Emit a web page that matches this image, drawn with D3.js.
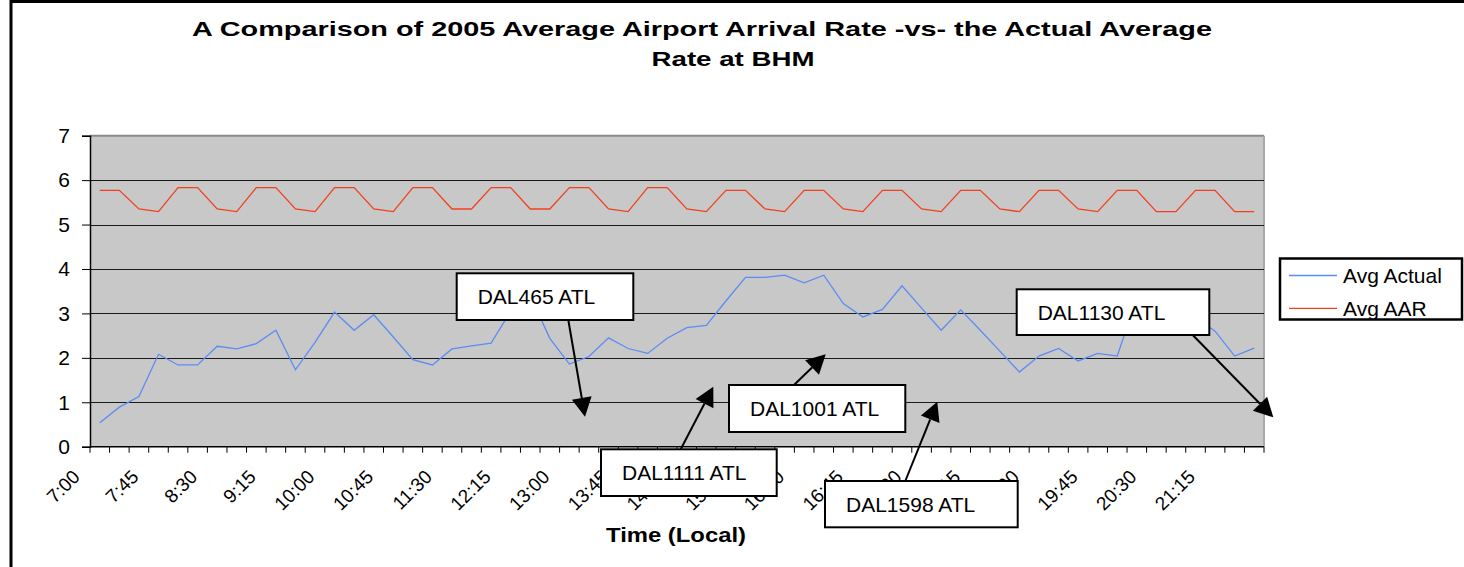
<!DOCTYPE html>
<html lang="en">
<head>
<meta charset="UTF-8">
<title>AAR vs Actual - BHM</title>
<script src="https://d3js.org/d3.v7.min.js"></script>
<style>
  body { margin: 0; background: #fff; }
  text { font-family: "Liberation Sans", Arial, sans-serif; }
</style>
</head>
<body>
<div id="chart"></div>
<script>
// categories: 15 minute slots, 7:00 .. 21:45
var times = ['7:00','7:15','7:30','7:45','8:00','8:15','8:30','8:45','9:00','9:15','9:30','9:45',
  '10:00','10:15','10:30','10:45','11:00','11:15','11:30','11:45','12:00','12:15','12:30','12:45',
  '13:00','13:15','13:30','13:45','14:00','14:15','14:30','14:45','15:00','15:15','15:30','15:45',
  '16:00','16:15','16:30','16:45','17:00','17:15','17:30','17:45','18:00','18:15','18:30','18:45',
  '19:00','19:15','19:30','19:45','20:00','20:15','20:30','20:45','21:00','21:15','21:30','21:45'];

var avgActual = [0.54,0.89,1.13,2.08,1.84,1.84,2.26,2.20,2.32,2.62,1.73,2.35,
  3.03,2.62,2.97,2.47,1.96,1.84,2.20,2.27,2.33,3.05,3.40,2.44,
  1.86,2.03,2.45,2.21,2.10,2.44,2.68,2.73,3.28,3.81,3.81,3.86,
  3.69,3.86,3.22,2.92,3.09,3.62,3.12,2.62,3.08,2.62,2.15,1.68,
  2.04,2.21,1.93,2.10,2.04,3.35,3.10,3.00,2.90,2.60,2.04,2.22];

var avgAAR = [5.77,5.77,5.35,5.29,5.83,5.83,5.35,5.29,5.83,5.83,5.35,5.29,
  5.83,5.83,5.35,5.29,5.83,5.83,5.35,5.35,5.83,5.83,5.35,5.35,
  5.83,5.83,5.35,5.29,5.83,5.83,5.35,5.29,5.77,5.77,5.35,5.29,
  5.77,5.77,5.35,5.29,5.77,5.77,5.35,5.29,5.77,5.77,5.35,5.29,
  5.77,5.77,5.35,5.29,5.77,5.77,5.29,5.29,5.77,5.77,5.29,5.29];

var yTicks = [0,1,2,3,4,5,6,7];
var seriesNames = ['Avg Actual','Avg AAR'];
var seriesColors = ['#5b8cf5','#f2401e'];

var flights = ['DAL465 ATL','DAL1111 ATL','DAL1001 ATL','DAL1598 ATL','DAL1130 ATL'];

var width = 1464, height = 567;
var plot = { left: 90, right: 1264, top: 135.7, bottom: 446.7 };

var svg = d3.select('#chart').append('svg')
  .attr('width', width).attr('height', height);

// outer chart border (only top and left visible)
svg.append('line').attr('x1', 11).attr('x2', width).attr('y1', 1.5).attr('y2', 1.5)
  .attr('stroke', '#000').attr('stroke-width', 3);
svg.append('line').attr('x1', 11).attr('x2', 11).attr('y1', 0).attr('y2', height)
  .attr('stroke', '#000').attr('stroke-width', 3);

// title
svg.append('text').attr('x', 702).attr('y', 36).attr('text-anchor', 'middle')
  .attr('font-size', 21).attr('font-weight', 'bold')
  .attr('textLength', 1020).attr('lengthAdjust', 'spacingAndGlyphs')
  .text('A Comparison of 2005 Average Airport Arrival Rate -vs- the Actual Average');
svg.append('text').attr('x', 733).attr('y', 66).attr('text-anchor', 'middle')
  .attr('font-size', 21).attr('font-weight', 'bold')
  .attr('textLength', 163).attr('lengthAdjust', 'spacingAndGlyphs')
  .text('Rate at BHM');

var x = d3.scaleBand().domain(times).range([plot.left, plot.right]).padding(0);
var y = d3.scaleLinear().domain([0, 7]).range([plot.bottom, plot.top]);
var cx = function(t) { return x(t) + x.bandwidth() / 2; };

// plot area
svg.append('rect').attr('x', plot.left).attr('y', plot.top)
  .attr('width', plot.right - plot.left).attr('height', plot.bottom - plot.top)
  .attr('fill', '#c8c8c8');
svg.append('line').attr('x1', plot.left).attr('x2', plot.right)
  .attr('y1', plot.top).attr('y2', plot.top).attr('stroke', '#8a8a8a').attr('stroke-width', 2);
svg.append('line').attr('x1', plot.right).attr('x2', plot.right)
  .attr('y1', plot.top).attr('y2', plot.bottom).attr('stroke', '#a8a8a8').attr('stroke-width', 2);

// gridlines
svg.append('g').selectAll('line').data(yTicks.filter(function(d) { return d > 0 && d < 7; }))
  .enter().append('line')
  .attr('x1', plot.left).attr('x2', plot.right)
  .attr('y1', function(d) { return Math.round(y(d)) + 0.5; })
  .attr('y2', function(d) { return Math.round(y(d)) + 0.5; })
  .attr('stroke', '#1a1a1a').attr('stroke-width', 1);

// y axis
var yAxis = d3.axisLeft(y).tickValues(yTicks).tickFormat(d3.format('d')).tickSize(8).tickPadding(12);
var gy = svg.append('g').attr('transform', 'translate(' + plot.left + ',0)').call(yAxis);
gy.select('.domain').attr('stroke', '#000').attr('stroke-width', 1.5);
gy.selectAll('.tick line').attr('stroke', '#000');
gy.selectAll('.tick text').attr('font-size', 21).attr('fill', '#000')
  .style('font-family', '"Liberation Sans", Arial, sans-serif');

// x axis: ticks at category boundaries, labels every 3rd slot
var boundaries = d3.range(times.length + 1);
var gx = svg.append('g');
gx.append('line').attr('x1', plot.left).attr('x2', plot.right)
  .attr('y1', plot.bottom).attr('y2', plot.bottom).attr('stroke', '#000').attr('stroke-width', 1.5);
gx.selectAll('line.tk').data(boundaries).enter().append('line').attr('class', 'tk')
  .attr('x1', function(i) { return plot.left + i * x.bandwidth(); })
  .attr('x2', function(i) { return plot.left + i * x.bandwidth(); })
  .attr('y1', plot.bottom).attr('y2', plot.bottom + 6)
  .attr('stroke', '#000').attr('stroke-width', 1);
gx.selectAll('text').data(times.filter(function(t, i) { return i % 3 === 0; }))
  .enter().append('text')
  .attr('transform', function(t) {
    return 'translate(' + (x(t) - 9) + ',' + 478 + ') rotate(-45)';
  })
  .attr('text-anchor', 'end').attr('font-size', 19).attr('fill', '#000')
  .text(function(t) { return t; });

svg.append('text').attr('x', 676).attr('y', 542).attr('text-anchor', 'middle')
  .attr('font-size', 20).attr('font-weight', 'bold')
  .attr('textLength', 140).attr('lengthAdjust', 'spacingAndGlyphs')
  .text('Time (Local)');

// series lines
var line = d3.line()
  .x(function(d, i) { return cx(times[i]); })
  .y(function(d) { return y(d); });
[avgActual, avgAAR].forEach(function(s, k) {
  svg.append('path').datum(s).attr('d', line)
    .attr('fill', 'none').attr('stroke', seriesColors[k]).attr('stroke-width', 1.3);
});

// legend
var lg = svg.append('g');
lg.append('rect').attr('x', 1280).attr('y', 258.5).attr('width', 182).attr('height', 61)
  .attr('fill', '#fff').attr('stroke', '#000').attr('stroke-width', 2.5);
seriesNames.forEach(function(n, k) {
  var ly = 275.5 + k * 32.8;
  lg.append('line').attr('x1', 1289).attr('x2', 1337).attr('y1', ly).attr('y2', ly)
    .attr('stroke', seriesColors[k]).attr('stroke-width', 1.3);
  lg.append('text').attr('x', 1343).attr('y', ly + 7.5).attr('font-size', 21).attr('fill', '#000').text(n);
});

// callouts: box [x, y, w, h], arrow from [x, y] to tip [x, y]
var callouts = [
  { box: [456.7, 273.3, 176.6, 46.7], from: [568.3, 320], tip: [585, 416.7] },
  { box: [601, 449.3, 175.7, 46.7], from: [680.7, 449.3], tip: [713.3, 386.7] },
  { box: [729, 385, 176.3, 47], from: [794, 385], tip: [825.7, 354.3] },
  { box: [825, 481, 192.7, 46.3], from: [905.3, 481], tip: [937.3, 401.7] },
  { box: [1016.7, 289.3, 192.6, 45.7], from: [1192.7, 335], tip: [1273.3, 417.3] }
];
var cg = svg.append('g');
callouts.forEach(function(c, k) {
  var dx = c.tip[0] - c.from[0], dy = c.tip[1] - c.from[1];
  var len = Math.sqrt(dx * dx + dy * dy), ux = dx / len, uy = dy / len;
  var headL = 19, headW = 10;
  var bx = c.tip[0] - ux * headL, by = c.tip[1] - uy * headL;
  cg.append('line').attr('x1', c.from[0]).attr('y1', c.from[1]).attr('x2', bx).attr('y2', by)
    .attr('stroke', '#000').attr('stroke-width', 2);
  cg.append('path')
    .attr('d', 'M' + c.tip[0] + ',' + c.tip[1] +
      'L' + (bx - uy * headW) + ',' + (by + ux * headW) +
      'L' + (bx + uy * headW) + ',' + (by - ux * headW) + 'Z')
    .attr('fill', '#000');
  cg.append('rect').attr('x', c.box[0]).attr('y', c.box[1])
    .attr('width', c.box[2]).attr('height', c.box[3])
    .attr('fill', '#fff').attr('stroke', '#000').attr('stroke-width', 2);
  cg.append('text').attr('x', c.box[0] + 21).attr('y', c.box[1] + 31)
    .attr('font-size', 21).attr('fill', '#000').text(flights[k]);
});
</script>
</body>
</html>
